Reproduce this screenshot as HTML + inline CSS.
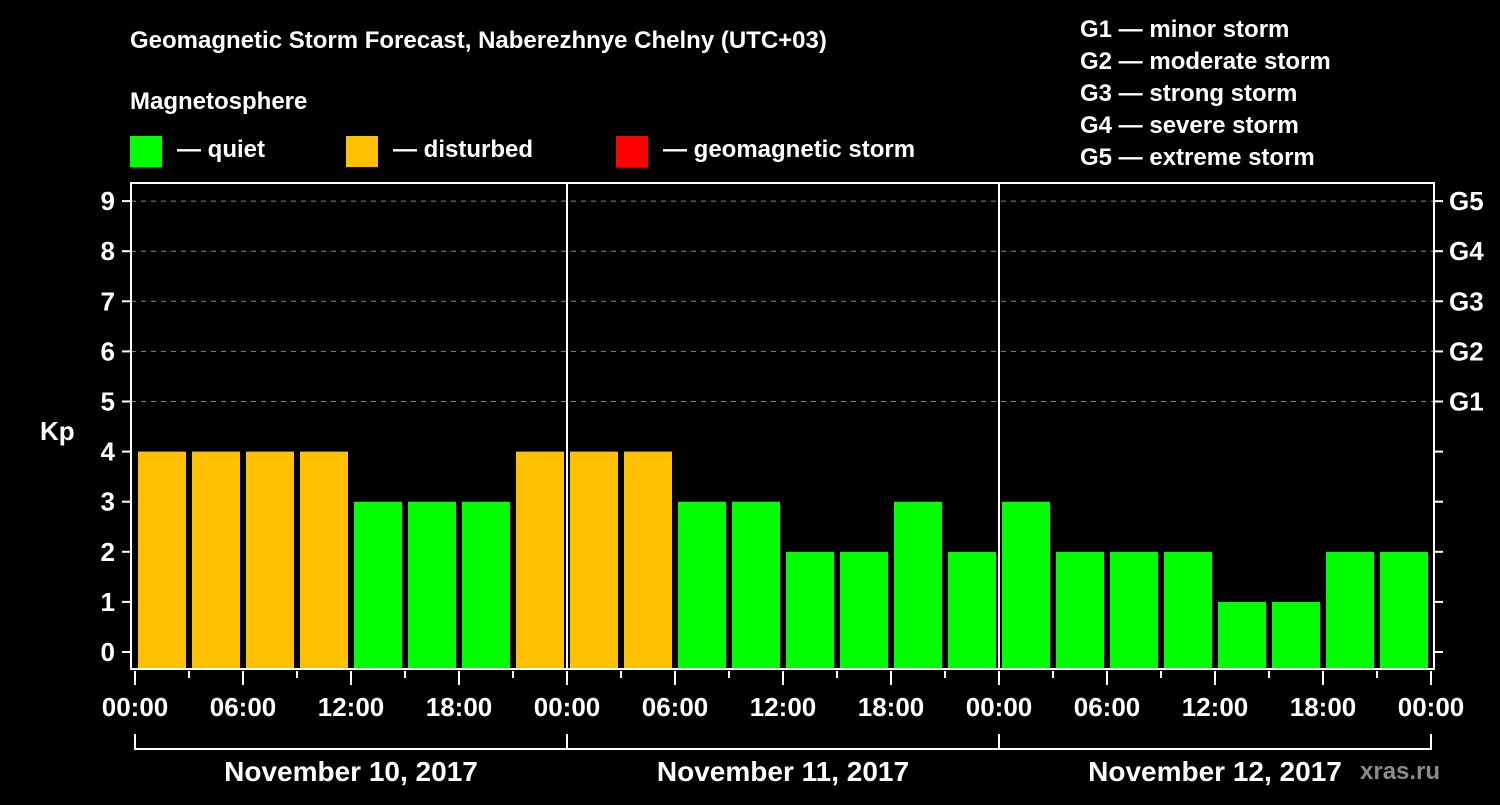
<!DOCTYPE html>
<html><head><meta charset="utf-8"><style>
body{margin:0;background:#000;}
svg text{font-family:"Liberation Sans",Arial,sans-serif;font-weight:bold;fill:#fff;}
</style></head><body>
<svg id="c" width="1500" height="800" viewBox="0 0 1500 800">
<rect width="1500" height="800" fill="#000"/>
<text x="130" y="48" font-size="24">Geomagnetic Storm Forecast, Naberezhnye Chelny (UTC+03)</text>
<text x="130" y="109" font-size="24">Magnetosphere</text>
<g><rect x="130" y="136" width="32" height="31" fill="#00ff00"/><text x="177" y="157" font-size="24">— quiet</text></g>
<g><rect x="346" y="136" width="32" height="31" fill="#ffc000"/><text x="393" y="157" font-size="24">— disturbed</text></g>
<g><rect x="616" y="136" width="32" height="31" fill="#ff0000"/><text x="663" y="157" font-size="24">— geomagnetic storm</text></g>
<g font-size="24">
<text x="1080" y="37">G1 — minor storm</text>
<text x="1080" y="69">G2 — moderate storm</text>
<text x="1080" y="101">G3 — strong storm</text>
<text x="1080" y="133">G4 — severe storm</text>
<text x="1080" y="165">G5 — extreme storm</text>
</g>
<text x="40" y="440" font-size="26">Kp</text>
<text x="1360" y="779" font-size="24" fill="#888" style="fill:#8a8a8a">xras.ru</text>
<g id="plot"></g>
</svg>
<script>
const days = ["November 10, 2017","November 11, 2017","November 12, 2017"];
const kpValues = [4,4,4,4,3,3,3,4, 4,4,3,3,2,2,3,2, 3,2,2,2,1,1,2,2];
const yTicks = [0,1,2,3,4,5,6,7,8,9];
const gLabels = ["G1","G2","G3","G4","G5"];
const hourLabels = ["00:00","06:00","12:00","18:00"];

const NS="http://www.w3.org/2000/svg";
const g=document.getElementById('plot');
const X0=135, DAYW=432, L=131, R=1434, T=183, B=669;
const yS=v=>652-v*50.1;
const xS=h=>X0+h*DAYW/24;
function mk(t,a){const e=document.createElementNS(NS,t);for(const k in a)e.setAttribute(k,a[k]);g.appendChild(e);return e;}
// grid
yTicks.forEach(v=>{
  if(v>=5){const l=mk('line',{x1:L,x2:R,y1:yS(v),y2:yS(v),stroke:'#888','stroke-dasharray':'5,5','stroke-width':1});
  
  }
});
// bars
kpValues.forEach((v,i)=>{
  const r=mk('rect',{x:xS(i*3)+3,y:yS(v),width:48,height:B-yS(v),fill:v>=5?'#ff0000':(v>=4?'#ffc000':'#00ff00')});
  
  
});
// frame
const f=mk('rect',{x:L,y:T,width:R-L,height:B-T,fill:'none',stroke:'#fff','stroke-width':2});


// day separators
for(let d=1;d<days.length;d++){
  const l=mk('line',{x1:xS(d*24),x2:xS(d*24),y1:T,y2:B,stroke:'#fff','stroke-width':2});
  
  
}
// y ticks and labels
yTicks.forEach(v=>{
  mk('line',{x1:122,x2:L,y1:yS(v),y2:yS(v),stroke:'#fff','stroke-width':2});
  mk('line',{x1:R,x2:R+9,y1:yS(v),y2:yS(v),stroke:'#fff','stroke-width':2});
  const t=mk('text',{x:115,y:yS(v)+9,'font-size':26,'text-anchor':'end'});t.textContent=v;
  
  
  if(v>=5){const t2=mk('text',{x:1449,y:yS(v)+9,'font-size':26});t2.textContent=gLabels[v-5];
  
  }
});
// x ticks
for(let h=0;h<=days.length*24;h+=3){
  const major=h%6===0;
  mk('line',{x1:xS(h),x2:xS(h),y1:B+2,y2:major?685:678,stroke:'#fff','stroke-width':2});
  if(major&&(h%24!==0||true)&&h%6===0){
    const t=mk('text',{x:xS(h),y:716,'font-size':26,'text-anchor':'middle'});
    t.textContent=hourLabels[(h%24)/6];
    
    
  }
}
// day brackets
days.forEach((d,i)=>{
  const x1=xS(i*24),x2=xS((i+1)*24);
  mk('line',{x1:x1,x2:x1,y1:734,y2:750,stroke:'#fff','stroke-width':2});
  mk('line',{x1:x2,x2:x2,y1:734,y2:750,stroke:'#fff','stroke-width':2});
  mk('line',{x1:x1,x2:x2,y1:749,y2:749,stroke:'#fff','stroke-width':2});
  const t=mk('text',{x:(x1+x2)/2,y:781,'font-size':28,'text-anchor':'middle'});t.textContent=d;
  
  
});
</script>
</body></html>
